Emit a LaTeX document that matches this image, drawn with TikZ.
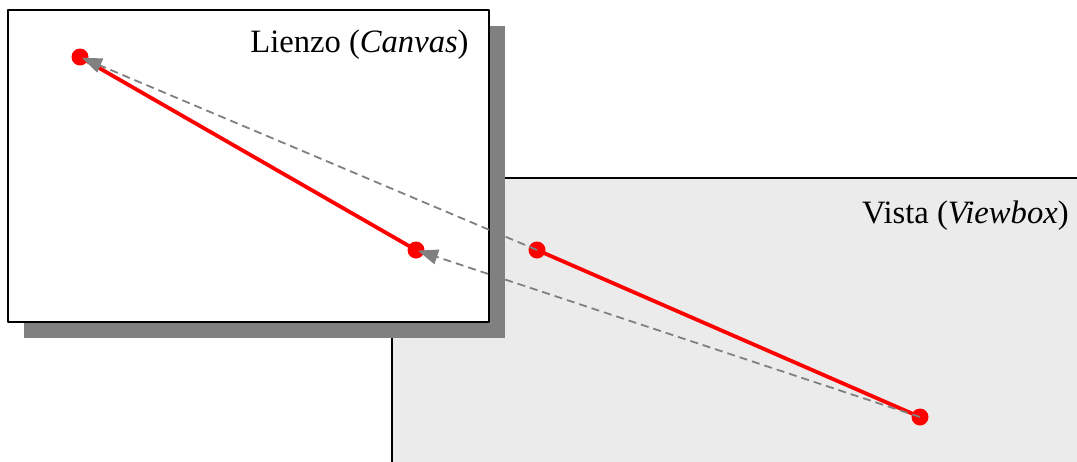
\documentclass[tikz,border=0pt]{standalone}
\usepackage{fontspec}
\setmainfont{Liberation Serif}
\usetikzlibrary{arrows.meta, positioning}
\definecolor{pen}{HTML}{000000}
\definecolor{vgray}{HTML}{EBEBEB}
\definecolor{dropgray}{HTML}{808080}
\definecolor{seg}{HTML}{FF0000}
\tikzset{el/.style={line cap=round, line join=round},
  dot/.style={circle, fill=seg, inner sep=0pt, minimum size=8.5pt},
  seg line/.style={seg, line width=1.9pt},
  map/.style={dropgray, line width=0.9pt, dash pattern=on 4pt off 2.5pt, line cap=butt,
    -{Triangle[length=10pt, width=7.5pt]}, shorten >=1pt},
  lbl/.style={anchor=base east, inner sep=0pt, font=\fontsize{16.3}{19}\selectfont}}
\begin{document}
\begin{tikzpicture}[el, x=0.5pt, y=-0.5pt]
  \clip (0,0) rectangle (1077,461);
  % viewbox
  \draw[pen, line width=1.1pt, fill=vgray] (392,178) rectangle (1100,480);
  \node[lbl] (vlbl) at (1069,223) {Vista (\textit{Viewbox})};
  % canvas with shadow
  \fill[dropgray] (24,26) rectangle (505,338);
  \draw[pen, line width=1.1pt, fill=white] (8,10) rectangle (489,322);
  \node[lbl] (clbl) at (469,52) {Lienzo (\textit{Canvas})};
  % points
  \foreach \nm/\px/\py in {c1/80/57, c2/416/250, v1/537/250, v2/920/417}{
     \coordinate (\nm) at (\px,\py);}
  \draw[seg line] (c1)--(c2);
  \draw[seg line] (v1)--(v2);
  \foreach \nm in {c1, c2, v1, v2}{\node[dot] (d\nm) at (\nm) {};}
  \draw[map] (v1)--(c1);
  \draw[map] (v2)--(c2);
\end{tikzpicture}
\end{document}
